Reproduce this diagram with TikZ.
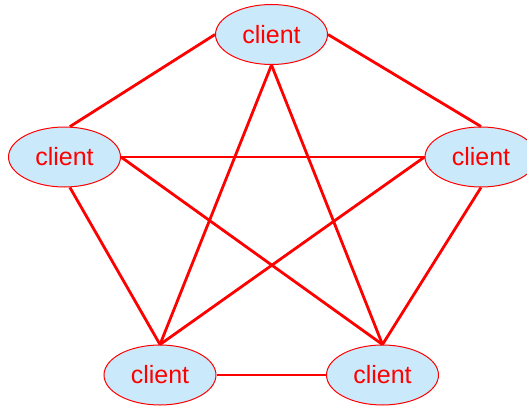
\documentclass[tikz,border=0pt]{standalone}
\usepackage{fontspec}
\setmainfont{Liberation Sans}
\usetikzlibrary{shapes.geometric}
\definecolor{clientblue}{RGB}{202,233,250}
\tikzset{
  client/.style={ellipse, draw=red, line width=1pt, fill=clientblue,
    minimum width=112pt, minimum height=60pt, inner sep=0pt,
    text=red, font=\fontsize{25}{30}\selectfont},
  link/.style={red, line width=2.8pt}
}
\begin{document}
\begin{tikzpicture}[x=1pt,y=1pt]
  \useasboundingbox (0,0) rectangle (527,408);

  % Clients
  \node[client] (top) at (271.5,373.5) {client};
  \node[client] (left) at (64.5,251) {client};
  \node[client] (right) at (481,251) {client};
  \node[client] (botleft) at (160,33) {client};
  \node[client] (botright) at (382.5,33) {client};

  % Links between every pair
  \draw[link] (top.west) -- (left.80);
  \draw[link] (top.east) -- (right.north);
  \draw[link] (top.south) -- (botleft.north);
  \draw[link] (top.south) -- (botright.north);
  \draw[link] (left.east) -- (right.west);
  \draw[link] (left.-80) -- (botleft.north);
  \draw[link] (left.east) -- (botright.north);
  \draw[link] (right.west) -- (botleft.north);
  \draw[link] (right.south) -- (botright.north);
  \draw[link] (botleft.east) -- (botright.west);
\end{tikzpicture}
\end{document}
